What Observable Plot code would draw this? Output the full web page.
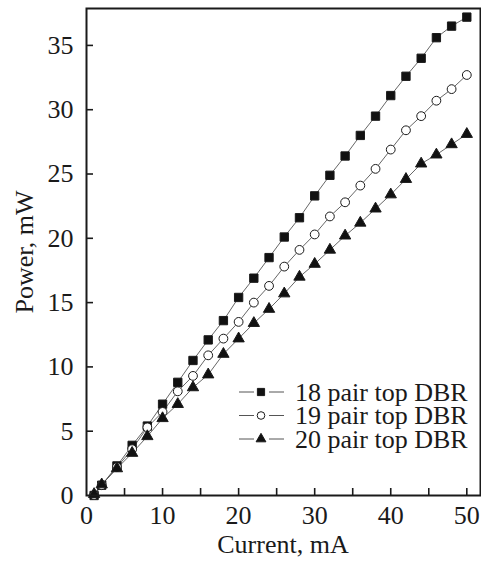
<!DOCTYPE html>
<html>
<head>
<meta charset="utf-8">
<script src="https://cdn.jsdelivr.net/npm/d3@7"></script>
<script src="https://cdn.jsdelivr.net/npm/@observablehq/plot@0.6"></script>
<style>
  html, body { margin: 0; padding: 0; background: white; }
  #chart { width: 481px; height: 561px; }
</style>
</head>
<body>
<div id="chart"></div>
<script>
// ---- data ----
const current = [1, 2, 4, 6, 8, 10, 12, 14, 16, 18, 20, 22, 24, 26, 28, 30, 32, 34, 36, 38, 40, 42, 44, 46, 48, 50];
const power18 = [0.0, 0.8, 2.3, 3.9, 5.4, 7.1, 8.8, 10.5, 12.1, 13.6, 15.4, 16.9, 18.5, 20.1, 21.6, 23.3, 24.9, 26.4, 28.0, 29.5, 31.1, 32.6, 34.0, 35.6, 36.5, 37.2];
const power19 = [0.05, 0.8, 2.2, 3.6, 5.3, 6.5, 8.1, 9.3, 10.9, 12.2, 13.5, 15.0, 16.3, 17.8, 19.1, 20.3, 21.7, 22.8, 24.1, 25.4, 26.9, 28.4, 29.5, 30.7, 31.6, 32.7];
const power20 = [0.1, 0.85, 2.1, 3.3, 4.6, 6.0, 7.1, 8.4, 9.4, 11.0, 12.2, 13.4, 14.5, 15.7, 17.0, 18.0, 19.1, 20.2, 21.2, 22.3, 23.4, 24.6, 25.8, 26.5, 27.3, 28.1];
const seriesNames = ["18 pair top DBR", "19 pair top DBR", "20 pair top DBR"];
const xLabelTicks = [0, 10, 20, 30, 40, 50];
const xTickMarks = [5, 10, 15, 20, 25, 30, 35, 40, 45, 50];
const yLabelTicks = [0, 5, 10, 15, 20, 25, 30, 35];
const yTickMarks = [5, 10, 15, 20, 25, 30, 35];
const xTitle = "Current, mA";
const yTitle = "Power, mW";

// ---- build table ----
const seriesValues = [power18, power19, power20];
const symbols = ["square", "circle", "triangle"];
const fills = ["#111", "white", "#111"];
const radii = [4.7, 4.4, 4.2];
const rows = [];
seriesValues.forEach((vals, s) => {
  vals.forEach((v, i) => rows.push({current: current[i], power: v, series: seriesNames[s]}));
});

const font = "'Liberation Serif', 'Times New Roman', serif";
const ink = "#1a1a1a";

const marks = [
  Plot.line(rows, {x: "current", y: "power", z: "series", stroke: "#555", strokeWidth: 0.9})
];
seriesNames.forEach((name, s) => {
  marks.push(Plot.dot(rows.filter(d => d.series === name), {
    x: "current", y: "power", symbol: () => symbols[s], r: radii[s],
    fill: fills[s], stroke: ink, strokeWidth: 1
  }));
});
marks.push(
  Plot.axisX({ticks: xTickMarks, tickSize: 7, dy: -7, text: null, label: null, stroke: ink, strokeWidth: 1.6}),
  Plot.axisX({ticks: xLabelTicks, tickSize: 0, tickPadding: 10, label: null, fill: ink}),
  Plot.axisY({ticks: yTickMarks, tickSize: 7, dx: 7, text: null, label: null, stroke: ink, strokeWidth: 1.6}),
  Plot.axisY({ticks: yLabelTicks, tickSize: 0, tickPadding: 13, label: null, fill: ink}),
  Plot.frame({stroke: ink, strokeWidth: 2})
);

const chart = Plot.plot({
  width: 481,
  height: 561,
  marginLeft: 86,
  marginRight: 1,
  marginTop: 8,
  marginBottom: 66,
  x: {domain: [0, 51.8]},
  y: {domain: [0, 37.87]},
  symbol: {type: "identity"},
  style: {fontFamily: font, fontSize: "26px", color: ink, background: "white", overflow: "visible"},
  marks
});
document.getElementById("chart").appendChild(chart);

// ---- axis titles and legend ----
const svg = d3.select(chart);
svg.append("text")
  .attr("x", 283).attr("y", 553)
  .attr("text-anchor", "middle")
  .attr("font-family", font).attr("font-size", 26).attr("fill", ink)
  .text(xTitle);
svg.append("text")
  .attr("transform", "translate(33,252) rotate(-90)")
  .attr("text-anchor", "middle")
  .attr("font-family", font).attr("font-size", 26).attr("fill", ink)
  .text(yTitle);

const legend = svg.append("g").attr("transform", "translate(239,392)");
seriesNames.forEach((name, s) => {
  const g = legend.append("g").attr("transform", `translate(0,${s * 23.5})`);
  g.append("line").attr("x1", 0).attr("x2", 15).attr("y1", 0).attr("y2", 0)
    .attr("stroke", "#555").attr("stroke-width", 1);
  g.append("line").attr("x1", 30).attr("x2", 45).attr("y1", 0).attr("y2", 0)
    .attr("stroke", "#555").attr("stroke-width", 1);
  const sym = s === 0 ? d3.symbolSquare : s === 1 ? d3.symbolCircle : d3.symbolTriangle;
  const size = Math.PI * radii[s] * radii[s] * 0.75;
  g.append("path").attr("d", d3.symbol(sym, size)())
    .attr("transform", "translate(22,0)")
    .attr("fill", fills[s]).attr("stroke", ink).attr("stroke-width", 1);
  g.append("text").attr("x", 56).attr("y", 0).attr("dy", "0.33em")
    .attr("text-anchor", "start")
    .attr("font-family", font).attr("font-size", 26).attr("fill", ink)
    .text(name);
});
</script>
</body>
</html>
